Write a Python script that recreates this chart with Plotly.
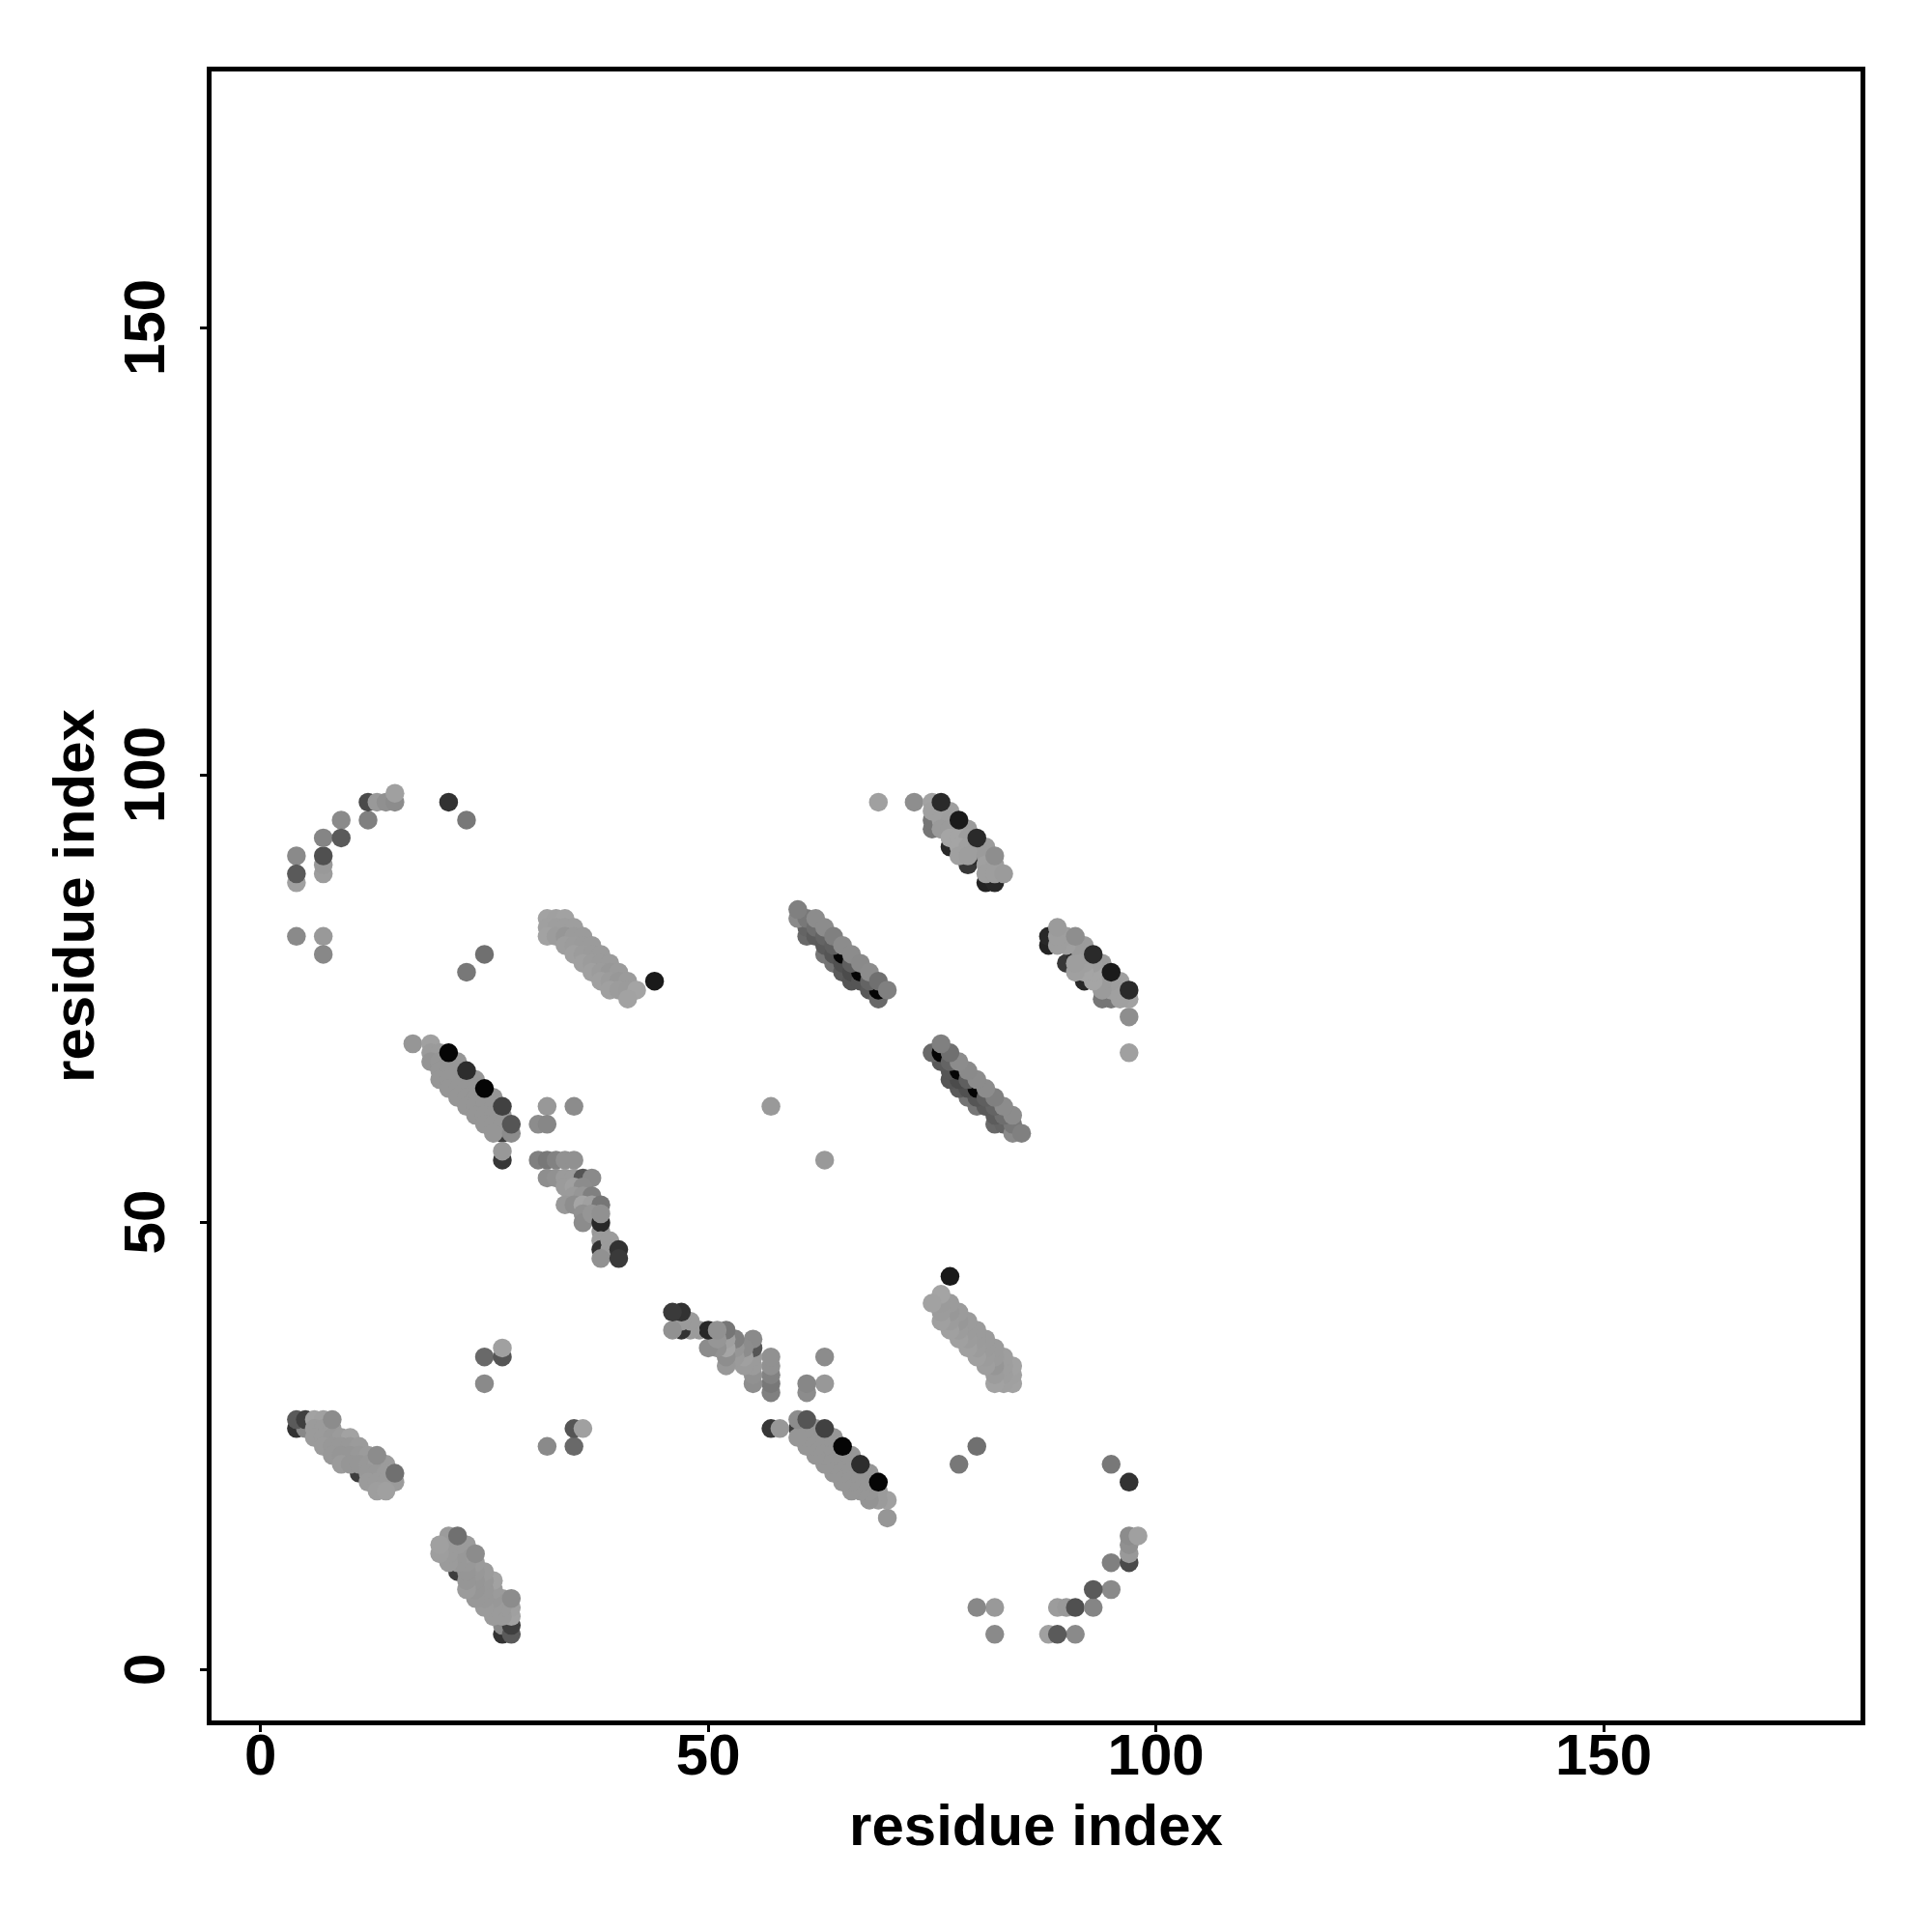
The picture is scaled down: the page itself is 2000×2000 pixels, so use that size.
import plotly.graph_objects as go

# Contacts (i < j); each contact is drawn at (i, j) and (j, i). gray = level 0-255. Order = draw order.
arc_x = [4, 4, 4, 7, 7, 7, 7, 9, 9, 12, 12, 13, 14, 15, 15, 21, 23, 4, 7, 7, 25, 23, 44]
arc_y = [88, 91, 89, 89, 90, 91, 93, 95, 93, 95, 97, 97, 97, 97, 98, 97, 95, 82, 82, 80, 80, 78, 77]
arc_g = [160, 138, 90, 156, 153, 80, 133, 138, 90, 128, 74, 153, 144, 140, 160, 50, 120, 138, 153, 136, 112, 120, 26]

d_x = [4, 5, 4, 5, 11, 6, 7, 6, 7, 8, 6, 7, 8, 9, 10, 7, 8, 9, 10, 11, 8, 9, 10, 11, 12,
       9, 10, 11, 12, 13, 14, 12, 13, 14, 12, 13, 14, 15, 13, 14, 8, 13, 15]
d_y = [27, 27, 28, 28, 22, 28, 28, 27, 27, 27, 26, 26, 26, 26, 26, 25, 25, 25, 25, 25, 24, 24, 24, 24, 24,
       23, 23, 23, 23, 23, 23, 22, 22, 22, 21, 21, 21, 21, 20, 20, 28, 24, 22]
d_g = [50, 136, 90, 63, 62, 162, 160, 155, 155, 155, 155, 155, 152, 155, 162, 155, 152, 152, 152, 155, 152, 150, 150, 152, 155,
       155, 150, 150, 152, 155, 155, 152, 152, 155, 155, 155, 155, 155, 158, 160, 140, 140, 112]

b_x = [27, 27, 27, 17, 19, 19, 20, 19, 20, 21, 22, 20, 21, 22, 20, 21, 22, 23, 24, 21, 22, 23, 24,
       22, 23, 24, 25, 26, 23, 24, 25, 26, 24, 25, 26, 27, 25, 26, 27, 26, 28, 21, 23, 25, 27, 28]
b_y = [60, 57, 58, 70, 70, 69, 69, 68, 68, 68, 68, 67, 67, 67, 66, 66, 66, 66, 66, 65, 65, 65, 65,
       64, 64, 64, 64, 64, 63, 63, 63, 63, 62, 62, 62, 62, 61, 61, 61, 60, 60, 69, 67, 65, 63, 61]
b_g = [60, 55, 152, 150, 160, 155, 155, 148, 150, 150, 150, 150, 150, 150, 150, 150, 150, 150, 150, 150, 150, 150, 150,
       150, 150, 150, 150, 150, 150, 150, 150, 150, 150, 150, 150, 150, 150, 150, 150, 150, 140, 5, 45, 5, 65, 85]

c_x = [32, 35, 31, 32, 31, 32, 33, 34, 35, 25, 25, 27, 27, 32, 33, 34, 35, 36, 37, 34, 35, 36, 35, 36, 37,
       34, 35, 36, 37, 38, 36, 36, 37, 38, 38, 38, 38, 38, 39, 39, 38, 40, 40, 57]
c_y = [63, 63, 61, 61, 57, 57, 57, 57, 57, 32, 35, 35, 36, 55, 55, 55, 55, 55, 55, 54, 54, 54, 53, 53, 53,
       52, 52, 52, 52, 52, 51, 50, 51, 49, 50, 51, 48, 47, 48, 47, 46, 47, 46, 63]
c_g = [152, 140, 140, 135, 128, 120, 130, 145, 145, 138, 105, 85, 160, 142, 145, 155, 155, 85, 138, 155, 160, 140, 155, 150, 128,
       152, 142, 165, 160, 118, 145, 140, 150, 152, 40, 145, 155, 50, 155, 155, 145, 50, 58, 153]

g_x = [32, 33, 34, 32, 33, 34, 35, 32, 33, 34, 35, 36, 34, 35, 36, 37, 35, 36, 37, 38,
       36, 37, 38, 39, 37, 38, 39, 40, 38, 39, 40, 41, 39, 40, 41, 42, 41]
g_y = [84, 84, 84, 83, 83, 83, 83, 82, 82, 82, 82, 82, 81, 81, 81, 81, 80, 80, 80, 80,
       79, 79, 79, 79, 78, 78, 78, 78, 77, 77, 77, 77, 76, 76, 76, 76, 75]
g_g = [162, 160, 162, 160, 158, 158, 158, 162, 156, 150, 155, 155, 158, 156, 155, 155, 160, 156, 155, 155,
       160, 156, 155, 155, 160, 156, 152, 155, 160, 156, 152, 155, 160, 156, 155, 164, 162]

e_x = [61, 63, 64, 65, 66, 61, 62, 63, 64, 65, 66, 67, 68, 69, 65, 67, 69, 60, 61, 62, 63, 64, 66, 68,
       60, 62, 63, 64, 65, 66, 67, 68, 69, 70]
e_y = [82, 80, 79, 78, 77, 83, 82, 81, 80, 79, 78, 77, 76, 75, 80, 78, 76, 84, 84, 83, 82, 81, 79, 77,
       85, 84, 83, 82, 81, 80, 79, 78, 77, 76]
e_g = [105, 118, 115, 90, 85, 100, 92, 90, 85, 80, 75, 85, 90, 105, 5, 5, 5, 138, 120, 110, 100, 95, 95, 100,
       128, 140, 140, 128, 140, 140, 138, 140, 112, 128]

f_x = [77, 79, 80, 81, 82, 69, 73, 75, 75, 76, 75, 75, 76, 77, 76, 77, 76, 77, 78, 79, 77, 78, 79,
       78, 79, 80, 81, 78, 79, 81, 81, 82, 81, 82, 76, 78, 80, 82, 83]
f_y = [92, 90, 91, 88, 88, 97, 97, 94, 95, 94, 97, 96, 96, 96, 95, 95, 94, 94, 94, 94, 93, 93, 93,
       92, 92, 92, 92, 91, 91, 91, 90, 90, 89, 89, 97, 95, 93, 91, 89]
f_g = [40, 55, 42, 35, 40, 160, 142, 118, 118, 125, 162, 160, 160, 158, 160, 158, 155, 155, 155, 155, 165, 165, 158,
       165, 160, 158, 155, 160, 158, 155, 160, 158, 158, 158, 42, 26, 42, 142, 155]

x_ticks = [0, 50, 100, 150]
y_ticks = [0, 50, 100, 150]
axis_title = "residue index"

xs = arc_x + d_x + b_x + c_x + g_x + e_x + f_x
ys = arc_y + d_y + b_y + c_y + g_y + e_y + f_y
gs = arc_g + d_g + b_g + c_g + g_g + e_g + f_g
colors = [f"rgb({v},{v},{v})" for v in gs]

fig = go.Figure()
for px, py in ((xs, ys), (ys, xs)):
    fig.add_trace(go.Scatter(
        x=px, y=py, mode="markers", showlegend=False, hoverinfo="skip", cliponaxis=True,
        marker=dict(size=19.5, color=colors, opacity=1, line=dict(width=0)),
    ))

font_name = "Liberation Sans"
axis_style = dict(
    showgrid=False, zeroline=False, showline=True, mirror=True, linecolor="black", linewidth=5.3,
    ticks="outside", ticklen=7, tickwidth=3, tickcolor="black",
    tickfont=dict(family=font_name, size=60, color="black", weight="bold"),
)
title_font = dict(family=font_name, size=60, color="black", weight="bold")
fig.update_xaxes(range=[-5.48, 178.7], tickvals=x_ticks, ticktext=[str(v) for v in x_ticks],
                 ticklabelstandoff=-28,
                 title=dict(text=axis_title, standoff=20, font=title_font),
                 **axis_style)
fig.update_yaxes(range=[-5.63, 178.67], tickvals=y_ticks,
                 ticktext=[str(v) + "\u00a0" for v in y_ticks], tickangle=-90,
                 ticklabelstandoff=13,
                 title=dict(text=axis_title, standoff=0, font=title_font),
                 **axis_style)
fig.update_layout(
    width=2000, height=2000, autosize=False, paper_bgcolor="white", plot_bgcolor="white",
    margin=dict(l=211.2, r=82, t=65.9, b=226.5, pad=0, autoexpand=False),
)
fig.write_html("out.html")
